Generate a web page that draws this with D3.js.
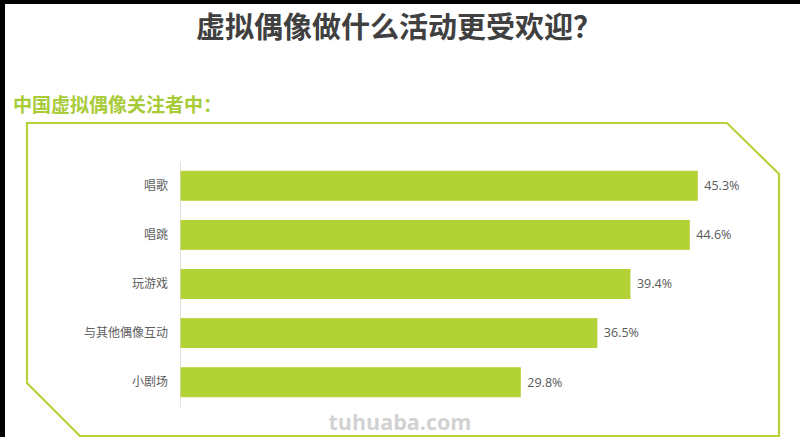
<!DOCTYPE html>
<html><head><meta charset="utf-8">
<script src="https://cdn.jsdelivr.net/npm/d3@7/dist/d3.min.js"></script>
<style>html,body{margin:0;padding:0;background:#fff;}svg{display:block;}</style>
</head><body>
<svg id="chart" width="800" height="437"></svg>
<script>
const categories = ["唱歌", "唱跳", "玩游戏", "与其他偶像互动", "小剧场"];
const values = [45.3, 44.6, 39.4, 36.5, 29.8];
const title = "虚拟偶像做什么活动更受欢迎？";
const subtitle = "中国虚拟偶像关注者中：";
const watermark = "tuhuaba.com";

const svg = d3.select("#chart");
const W = 800, H = 437;
const green = "#b2d235";
const cjk = "'Noto Sans CJK SC','Noto Sans',sans-serif";
const latin = "'Open Sans','Noto Sans CJK SC',sans-serif";

svg.append("rect").attr("width", W).attr("height", H).attr("fill", "#fff");

// frame
const frame = [[27,123],[727,123],[779,174],[779,436],[80,436],[27,383]];
svg.append("path").attr("d", d3.line()(frame) + "Z")
  .attr("fill", "none").attr("stroke", "#b4d33a").attr("stroke-width", 2.2);

// title
svg.append("text").attr("x", 399).attr("y", 38).attr("text-anchor", "middle")
  .attr("font-family", cjk).attr("font-weight", "bold").attr("font-size", 29)
  .attr("fill", "#404040").text(title);

svg.append("text").attr("x", 13).attr("y", 112)
  .attr("font-family", cjk).attr("font-weight", "bold").attr("font-size", 19)
  .attr("fill", "#a8cb38").text(subtitle);

const x = d3.scaleLinear().domain([0, 50]).range([180, 751]);
const y = d3.scaleBand().domain(categories).range([161, 407]).paddingInner(0.39).paddingOuter(0.2);

// axis line
const yAxis = svg.append("g").attr("transform", `translate(${x(0)},0)`)
  .call(d3.axisLeft(y).tickSize(0).tickPadding(12));
yAxis.select(".domain").attr("stroke", "#e2e2e2").attr("stroke-width", 1);
yAxis.selectAll("text").attr("font-family", cjk).attr("font-size", 12).attr("fill", "#606060");

const data = categories.map((c, i) => ({c, v: values[i]}));
svg.append("g").selectAll("rect").data(data).join("rect")
  .attr("x", x(0) + 0.5).attr("y", d => y(d.c))
  .attr("width", d => x(d.v) - x(0)).attr("height", y.bandwidth())
  .attr("fill", green);

svg.append("g").selectAll("text").data(data).join("text")
  .attr("x", d => x(d.v) + 7).attr("y", d => y(d.c) + y.bandwidth() / 2)
  .attr("dy", "0.35em").attr("font-family", latin).attr("font-size", 12.5)
  .attr("fill", "#595959").text(d => d.v.toFixed(1) + "%");

// watermark
svg.append("text").attr("x", 400).attr("y", 430).attr("text-anchor", "middle")
  .attr("font-family", "'Open Sans',sans-serif").attr("font-weight", "bold").attr("font-size", 21.5)
  .attr("fill", "#d2d2d2").text(watermark);

// black edges of the screenshot
svg.append("rect").attr("x", 0).attr("y", 0).attr("width", W).attr("height", 4).attr("fill", "#000");
svg.append("rect").attr("x", 0).attr("y", 0).attr("width", 5).attr("height", H).attr("fill", "#000");
</script>
</body></html>
